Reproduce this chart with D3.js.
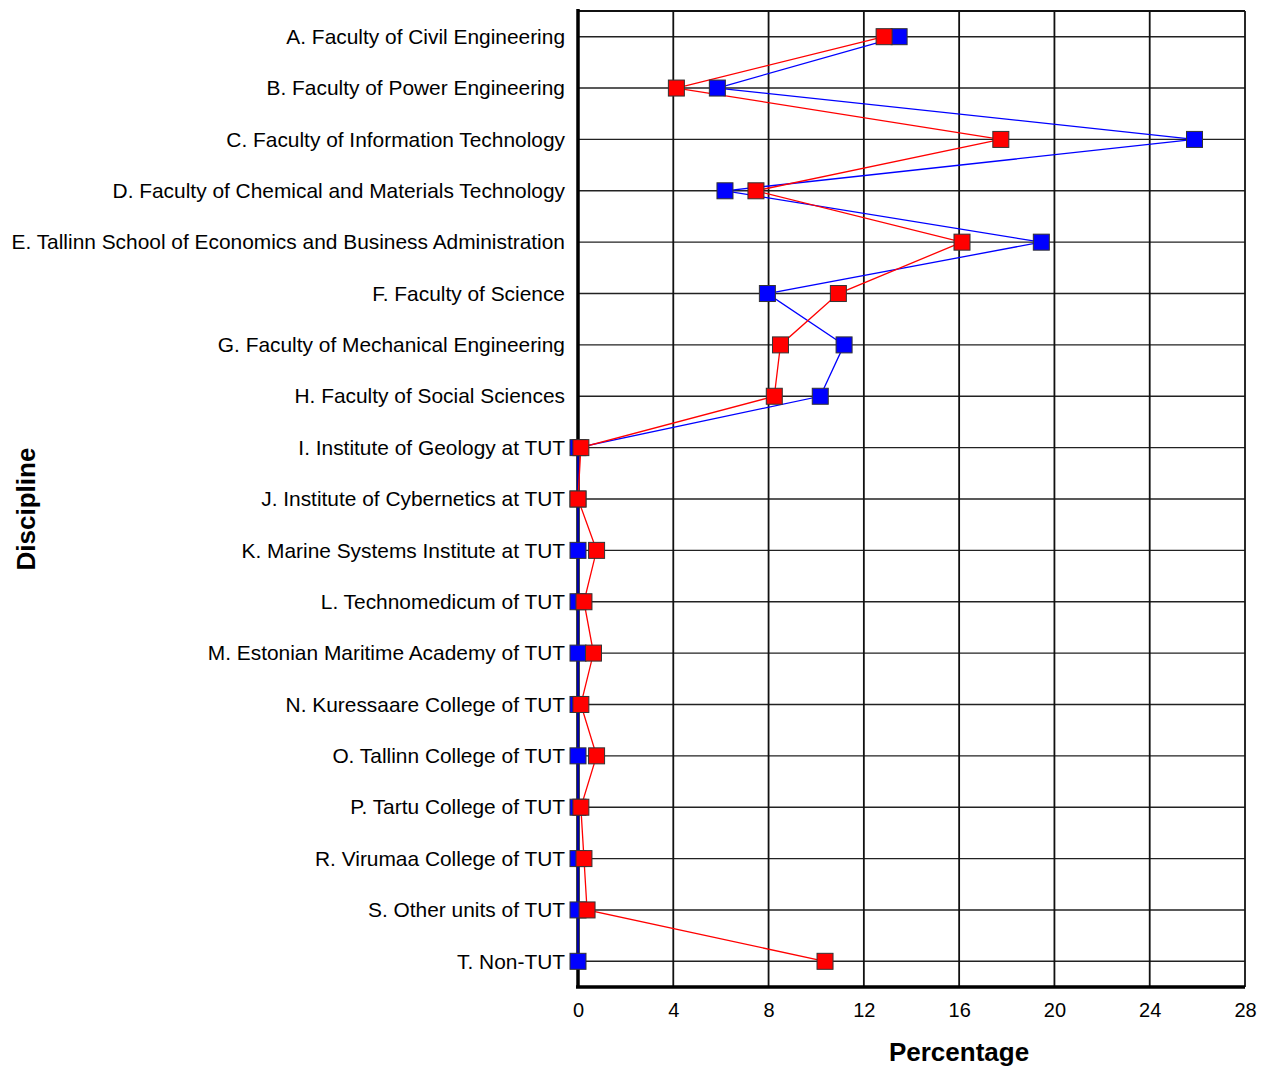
<!DOCTYPE html>
<html>
<head>
<meta charset="utf-8">
<script src="https://cdn.jsdelivr.net/npm/d3@7"></script>
<style>
  body { margin: 0; background: #fff; }
  text { font-family: "Liberation Sans", Arial, sans-serif; fill: #000; }
</style>
</head>
<body>
<svg id="chart" width="1270" height="1068"></svg>
<script>
const categories = [
  "A. Faculty of Civil Engineering",
  "B. Faculty of Power Engineering",
  "C. Faculty of Information Technology",
  "D. Faculty of Chemical and Materials Technology",
  "E. Tallinn School of Economics and Business Administration",
  "F. Faculty of Science",
  "G. Faculty of Mechanical Engineering",
  "H. Faculty of Social Sciences",
  "I. Institute of Geology at TUT",
  "J. Institute of Cybernetics at TUT",
  "K. Marine Systems Institute at TUT",
  "L. Technomedicum of TUT",
  "M. Estonian Maritime Academy of TUT",
  "N. Kuressaare College of TUT",
  "O. Tallinn College of TUT",
  "P. Tartu College of TUT",
  "R. Virumaa College of TUT",
  "S. Other units of TUT",
  "T. Non-TUT"
];
const redValues  = [12.85, 4.13, 17.75, 7.47, 16.12, 10.93, 8.5, 8.24, 0.12, 0, 0.78, 0.25, 0.65, 0.12, 0.78, 0.12, 0.25, 0.38, 10.37];
const blueValues = [13.48, 5.85, 25.88, 6.17, 19.45, 7.95, 11.17, 10.17, 0, 0, 0, 0, 0, 0, 0, 0, 0, 0, 0];
const xTicks = [0, 4, 8, 12, 16, 20, 24, 28];

const margin = { top: 11, right: 25, bottom: 81, left: 578 };
const W = 1270, H = 1068;
const iw = W - margin.left - margin.right;
const ih = H - margin.top - margin.bottom;

const svg = d3.select("#chart");
const g = svg.append("g").attr("transform", `translate(${margin.left},${margin.top})`);

const x = d3.scaleLinear().domain([0, 28]).range([0, iw]);
const y = d3.scalePoint().domain(categories).range([0, ih]).padding(0.5);

// grid
g.append("g").selectAll("line.h")
  .data(categories)
  .join("line")
  .attr("x1", 0).attr("x2", iw)
  .attr("y1", d => y(d)).attr("y2", d => y(d))
  .attr("stroke", "#222").attr("stroke-width", 1.4);

g.append("g").selectAll("line.v")
  .data(xTicks.slice(1))
  .join("line")
  .attr("x1", d => x(d)).attr("x2", d => x(d))
  .attr("y1", 0).attr("y2", ih)
  .attr("stroke", "#111").attr("stroke-width", 1.8);

// frame
g.append("line").attr("x1", 0).attr("x2", iw).attr("y1", 0).attr("y2", 0)
  .attr("stroke", "#111").attr("stroke-width", 2);
g.append("line").attr("x1", 0).attr("x2", 0).attr("y1", -2).attr("y2", ih)
  .attr("stroke", "#000").attr("stroke-width", 3.5);
g.append("line").attr("x1", -2).attr("x2", iw).attr("y1", ih).attr("y2", ih)
  .attr("stroke", "#000").attr("stroke-width", 3.5);

// x axis labels
const xAxis = g.append("g").attr("transform", `translate(0,${ih})`)
  .call(d3.axisBottom(x).tickValues(xTicks).tickSize(0).tickPadding(16));
xAxis.select(".domain").remove();
xAxis.selectAll("text").style("font-size", "20px").style("font-family", "Liberation Sans, Arial, sans-serif");

// y axis labels
const yAxis = g.append("g")
  .call(d3.axisLeft(y).tickSize(0).tickPadding(13));
yAxis.select(".domain").remove();
yAxis.selectAll("text").style("font-size", "20.9px").style("font-family", "Liberation Sans, Arial, sans-serif");

// titles
svg.append("text")
  .attr("x", 959).attr("y", 1061)
  .attr("text-anchor", "middle")
  .style("font-size", "26px").style("font-weight", "bold")
  .text("Percentage");
svg.append("text")
  .attr("transform", "translate(35,509) rotate(-90)")
  .attr("text-anchor", "middle")
  .style("font-size", "26px").style("font-weight", "bold")
  .text("Discipline");

// series
const series = [
  { values: blueValues, color: "#0000ff" },
  { values: redValues, color: "#ff0000" }
];
const line = d3.line().x(d => x(d.v)).y(d => y(d.c));
const ms = 16;

series.forEach(s => {
  const pts = categories.map((c, i) => ({ c, v: s.values[i] }));
  g.append("path")
    .datum(pts)
    .attr("d", line)
    .attr("fill", "none")
    .attr("stroke", s.color)
    .attr("stroke-width", 1.3);
});

series.forEach(s => {
  const pts = categories.map((c, i) => ({ c, v: s.values[i] }));
  g.append("g").selectAll("rect")
    .data(pts)
    .join("rect")
    .attr("x", d => x(d.v) - ms / 2)
    .attr("y", d => y(d.c) - ms / 2)
    .attr("width", ms).attr("height", ms)
    .attr("fill", s.color)
    .attr("stroke", "#333").attr("stroke-width", 1);
});
</script>
</body>
</html>
